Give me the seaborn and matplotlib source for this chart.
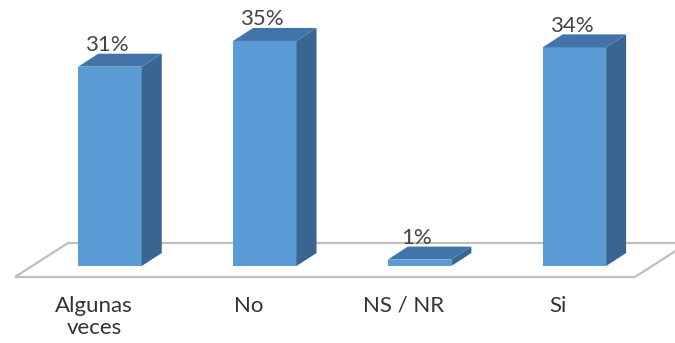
import matplotlib
matplotlib.use("Agg")
import matplotlib.pyplot as plt
from matplotlib.patches import Polygon
import pandas as pd
import seaborn as sns

# Survey answers and their share of responses (%)
categories = ["Algunas\nveces", "No", "NS / NR", "Si"]
percentages = [31, 35, 1, 34]
value_labels = ["31%", "35%", "1%", "34%"]

FRONT = "#5B9BD5"
SIDE = "#3A6591"
TOP = "#4274AA"
FLOOR_EDGE = "#BFBFBF"
LABEL_COLOR = "#444444"

sns.set_theme(style="white")
plt.rcParams["font.family"] = ["Lato", "DejaVu Sans"]

fig = plt.figure(figsize=(6.75, 3.43), dpi=100)
ax = fig.add_axes([0, 0, 1, 1])

df = pd.DataFrame({"category": categories, "pct": percentages})
sns.barplot(data=df, x="category", y="pct", color=FRONT, saturation=1,
            width=0.41, linewidth=0, ax=ax, zorder=3)

# pixel-based scale of the layout (px per category step / per percentage point)
STEP_PX = 154.8
UNIT_PX = 6.43
px_x = 1 / STEP_PX
px_y = 1 / UNIT_PX
ax.set_xlim(-110 * px_x, (675 - 110) * px_x)
ax.set_ylim(-77 * px_y, 266 * px_y)
ax.axis("off")

# oblique depth of the bars and the floor
dx, dy = 20 * px_x, 13 * px_y
fdx, fdy = 53 * px_x, 34 * px_y
f_left, f_right = -95 * px_x, 525 * px_x
f_front = -11 * px_y
floor = Polygon([(f_left, f_front), (f_right, f_front),
                 (f_right + fdx, f_front + fdy), (f_left + fdx, f_front + fdy)],
                closed=True, facecolor="white", edgecolor=FLOOR_EDGE,
                linewidth=1.6, zorder=1)
ax.add_patch(floor)

for bar, label in zip(list(ax.patches)[:len(percentages)], value_labels):
    x0, w, h = bar.get_x(), bar.get_width(), bar.get_height()
    side = Polygon([(x0 + w, 0), (x0 + w + dx, dy), (x0 + w + dx, h + dy), (x0 + w, h)],
                   closed=True, facecolor=SIDE, edgecolor="none", zorder=3)
    top = Polygon([(x0, h), (x0 + w, h), (x0 + w + dx, h + dy), (x0 + dx, h + dy)],
                  closed=True, facecolor=TOP, edgecolor="none", zorder=4)
    ax.add_patch(side)
    ax.add_patch(top)
    ax.text(x0 + w / 2 - 3 * px_x, h + dy + 2.5 * px_y, label,
            ha="center", va="baseline", fontsize=16, color=LABEL_COLOR, zorder=5)

for i, cat in enumerate(categories):
    ax.text(i - 16 * px_x, -30 * px_y, cat, ha="center", va="top",
            fontsize=16, color="#333333", linespacing=1.15, zorder=5)

fig.savefig("out.png", dpi=100)
